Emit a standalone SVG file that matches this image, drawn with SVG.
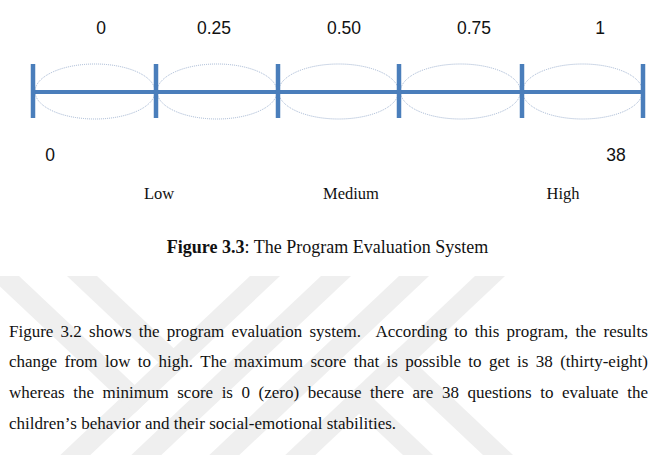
<svg xmlns="http://www.w3.org/2000/svg" width="657" height="455" viewBox="0 0 657 455">
<style>
.wm{fill:#efefef}
.axis{stroke:#4a7ebb;stroke-width:4;fill:none}
.tick{stroke:#4a7ebb;stroke-width:4.5}
.oval{fill:none;stroke:#9fb3d1;stroke-width:1;stroke-dasharray:1 1}
.num{font-family:"Liberation Sans",Arial,sans-serif;font-size:17.5px;fill:#111;text-anchor:middle}
.lvl{font-family:"Liberation Serif","Times New Roman",serif;font-size:16.5px;fill:#111;text-anchor:middle}
.cap{font-family:"Liberation Serif","Times New Roman",serif;font-size:18px;fill:#111;text-anchor:middle}
.para{font-family:"Liberation Serif","Times New Roman",serif;font-size:17px;fill:#111;font-kerning:none}
</style>
<rect width="657" height="455" fill="#fff"/>
<g id="watermark">
<polygon class="wm" points="250,276 280,276 90.3,455 60.3,455"/>
<polygon class="wm" points="321,276 351,276 161.3,455 131.3,455"/>
<polygon class="wm" points="399,276 429,276 239.3,455 209.3,455"/>
<polygon class="wm" points="475,276 505,276 315.3,455 285.3,455"/>
<polygon class="wm" points="-11,276 19,276 149.5,399.1 134.5,413.3"/>
<polygon class="wm" points="67,276 97,276 188.5,362.3 173.5,376.5"/>
<polygon class="wm" points="344.2,399.5 359.3,385.3 433,455 403,455"/>
<polygon class="wm" points="384.1,361.7 399.1,347.6 513,455 483,455"/>
</g>
<g id="scale">
<ellipse class="oval" cx="95" cy="91.5" rx="60" ry="27.5"/>
<ellipse class="oval" cx="217" cy="91.5" rx="60" ry="27.5"/>
<ellipse class="oval" cx="338.5" cy="91.5" rx="60" ry="27.5"/>
<ellipse class="oval" cx="460.5" cy="91.5" rx="60" ry="27.5"/>
<ellipse class="oval" cx="582.5" cy="91.5" rx="60" ry="27.5"/>
<line class="axis" x1="33" y1="92" x2="643" y2="92"/>
<line class="tick" x1="33" y1="64" x2="33" y2="118"/>
<line class="tick" x1="156" y1="64" x2="156" y2="118"/>
<line class="tick" x1="278" y1="64" x2="278" y2="118"/>
<line class="tick" x1="399" y1="64" x2="399" y2="118"/>
<line class="tick" x1="522" y1="64" x2="522" y2="118"/>
<line class="tick" x1="643" y1="64" x2="643" y2="118"/>
</g>
<g id="labels">
<text class="num" x="101" y="34">0</text>
<text class="num" x="214" y="34">0.25</text>
<text class="num" x="344" y="34">0.50</text>
<text class="num" x="474" y="34">0.75</text>
<text class="num" x="600" y="34">1</text>
<text class="num" x="50" y="161">0</text>
<text class="num" x="616" y="161">38</text>
<text class="lvl" x="159" y="199">Low</text>
<text class="lvl" x="351" y="199">Medium</text>
<text class="lvl" x="563" y="199">High</text>
</g>
<text class="cap" x="327.5" y="253"><tspan font-weight="bold">Figure 3.3</tspan>: The Program Evaluation System</text>
<g id="paragraph">
<text class="para" x="9" y="337" word-spacing="2.95" xml:space="preserve">Figure 3.2 shows the program evaluation system.  According to this program, the results</text>
<text class="para" x="9" y="367" word-spacing="3.13">change from low to high. The maximum score that is possible to get is 38 (thirty-eight)</text>
<text class="para" x="9" y="398" word-spacing="4.3">whereas the minimum score is 0 (zero) because there are 38 questions to evaluate the</text>
<text class="para" x="9" y="429">children’s behavior and their social-emotional stabilities.</text>
</g>
</svg>
